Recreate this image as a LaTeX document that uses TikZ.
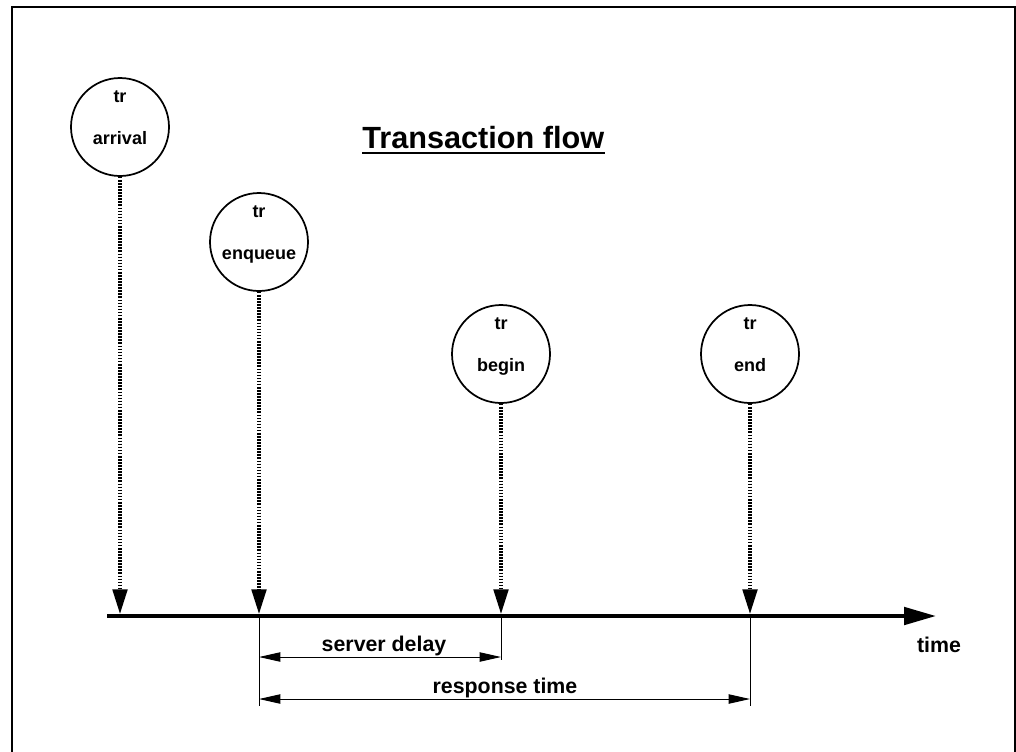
\documentclass[tikz,border=0pt]{standalone}
\usepackage{fontspec}
\setmainfont{Liberation Sans}
\usetikzlibrary{arrows.meta,calc}

\begin{document}
\begin{tikzpicture}[
    x=0.75pt, y=-0.75pt,
    event/.style={circle, draw, line width=1.3pt, minimum size=73.5pt, inner sep=0pt},
    evtext/.style={anchor=base, inner sep=0pt, font=\fontsize{13.5}{15}\selectfont\bfseries},
    dimtext/.style={anchor=base, inner sep=0pt, font=\fontsize{16}{18}\selectfont\bfseries},
    drop/.style={line width=2.3pt, dash pattern=on 1.2pt off 1.1pt,
                 -{Triangle[length=18.5pt, width=11pt]}},
    timeline/.style={line width=3pt, -{Triangle[length=24pt, width=13pt]}},
    tick/.style={line width=0.75pt},
    dim/.style={line width=0.75pt,
                {Triangle[length=16pt, width=7pt]}-{Triangle[length=16pt, width=7pt]}}
  ]
  \useasboundingbox (0,0) rectangle (1016,751);

  % open frame
  \draw[line width=1.8pt] (12,760) -- (12,7) -- (1015,7) -- (1015,760);

  % title
  \node[anchor=base west, inner sep=0pt, font=\fontsize{23}{26}\selectfont\bfseries]
    (title) at (362,148) {Transaction flow};
  \draw[line width=2pt] ($(title.base west)+(0,5)$) -- ($(title.base east)+(0,5)$);

  % event circles
  \node[event] (arr) at (120,127) {};
  \node[event] (enq) at (259,242) {};
  \node[event] (beg) at (501,354) {};
  \node[event] (fin) at (750,354) {};

  \foreach \c/\t in {arr/arrival, enq/enqueue, beg/begin, fin/end} {
    \node[evtext] (\c-tr) at ($(\c.center)+(0,-25)$) {tr};
    \node[evtext] (\c-nm) at ($(\c.center)+(0,17)$) {\t};
  }

  % time axis
  \coordinate (t0) at (107,616);
  \coordinate (t1) at (936,616);
  \draw[timeline] (t0) -- (t1);
  \node[dimtext] (time) at (939,652) {time};

  % drop points on the axis
  \coordinate (pa) at (120,614);
  \coordinate (pe) at (259,614);
  \coordinate (pb) at (501,614);
  \coordinate (pf) at (750,614);
  \draw[drop] (arr.south) -- (pa);
  \draw[drop] (enq.south) -- (pe);
  \draw[drop] (beg.south) -- (pb);
  \draw[drop] (fin.south) -- (pf);

  % extension lines below the axis
  \coordinate (xe0) at (259,616);
  \coordinate (xe1) at (259,706);
  \coordinate (xb0) at (501,616);
  \coordinate (xb1) at (501,660);
  \coordinate (xf0) at (750,616);
  \coordinate (xf1) at (750,706);
  \draw[tick] (xe0) -- (xe1);
  \draw[tick] (xb0) -- (xb1);
  \draw[tick] (xf0) -- (xf1);

  % dimension lines
  \coordinate (sdL) at (259,657);
  \coordinate (sdR) at (501,657);
  \draw[dim] (sdL) -- (sdR);
  \node[dimtext] (sdlab) at (384,651) {server delay};

  \coordinate (rtL) at (259,699);
  \coordinate (rtR) at (750,699);
  \draw[dim] (rtL) -- (rtR);
  \node[dimtext] (rtlab) at (505,693) {response time};
\end{tikzpicture}
\end{document}
